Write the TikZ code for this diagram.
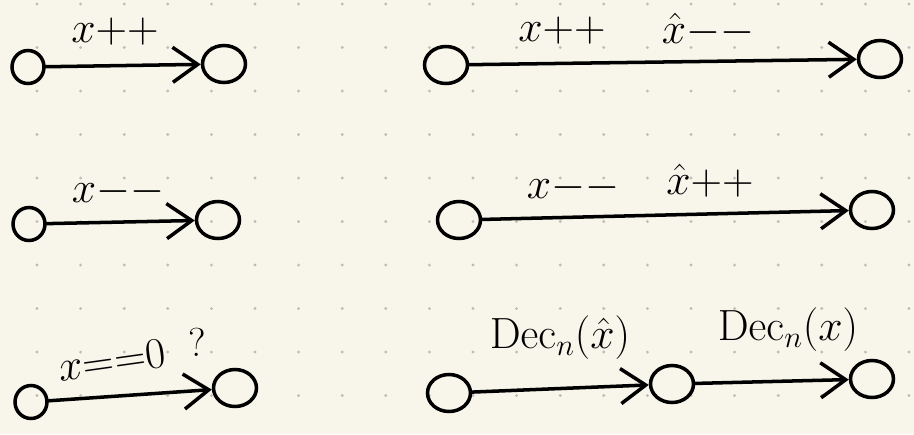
\documentclass[tikz,border=0pt]{standalone}
\usepackage{amsmath}
\usetikzlibrary{arrows.meta,shapes.geometric}
\definecolor{paper}{HTML}{F8F6EB}
\definecolor{griddot}{HTML}{BEBDB6}

\begin{document}
\begin{tikzpicture}[
    x=0.02cm, y=-0.02cm,
    font=\fontsize{23}{27}\selectfont,
    line width=2pt,
    state/.style={draw, ellipse, minimum width=0.86cm, minimum height=0.74cm, inner sep=0pt},
    statesm/.style={state, minimum width=0.64cm, minimum height=0.66cm},
    edge/.style={-{Straight Barb[length=5mm, width=7mm]}, line cap=round},
    lbl/.style={inner sep=1pt}
]
% paper and dot grid
\fill[paper] (0,0) rectangle (914,434);
\useasboundingbox (0,0) rectangle (914,434);
\foreach \i in {0,...,20}
  \foreach \j in {0,...,9}
    \fill[griddot] ({37+43.6*\i},{4+43.5*\j}) circle (1.6);

% left column
\node[statesm] (a1) at (28,67) {};
\node[state] (b1) at (224,64) {};
\node[lbl] (t1) at (115,32) {$x{+}{+}$};

\node[statesm] (a2) at (29,224) {};
\node[state] (b2) at (218,220) {};
\node[lbl] (t2) at (118,192) {$x{-}{-}$};

\node[statesm] (a3) at (31,402) {};
\node[state] (b3) at (235,388) {};
\node[lbl, rotate=8] (t3) at (112,360) {$x{=}{=}0$};
\node[lbl] (t3q) at (197,342) {?};

% right column
\node[state] (c1) at (446,65) {};
\node[state] (d1) at (880,59) {};
\node[lbl] (u1) at (562,31) {$x{+}{+}$};
\node[lbl] (u1h) at (708,30) {$\hat{x}{-}{-}$};

\node[state] (c2) at (459,220) {};
\node[state] (d2) at (872,210) {};
\node[lbl] (u2) at (573,188) {$x{-}{-}$};
\node[lbl] (u2h) at (710,181) {$\hat{x}{+}{+}$};

\node[state] (c3) at (449,393) {};
\node[state] (e3) at (672,384) {};
\node[state] (d3) at (872,379) {};
\node[lbl] (u3) at (560,338) {$\mathrm{Dec}_n(\hat{x})$};
\node[lbl] (u3b) at (788,330) {$\mathrm{Dec}_n(x)$};

% transitions
\draw[edge] (a1) -- (b1);
\draw[edge] (a2) -- (b2);
\draw[edge] (a3) -- (b3);
\draw[edge] (c1) -- (d1);
\draw[edge] (c2) -- (d2);
\draw[edge] (c3) -- (e3);
\draw[edge] (e3) -- (d3);
\end{tikzpicture}
\end{document}
